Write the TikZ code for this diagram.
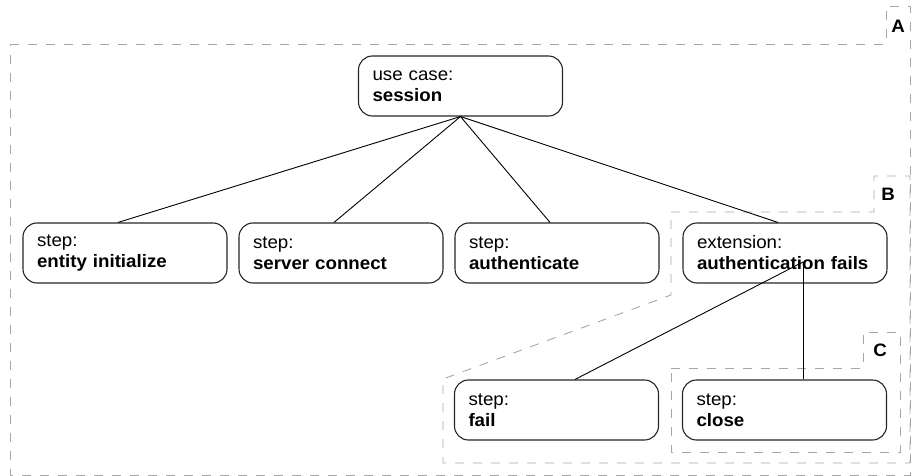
\documentclass[tikz,border=0pt]{standalone}
\usepackage{fontspec}
\setmainfont{Liberation Sans}[FakeStretch=1.04]
\begin{document}
\begin{tikzpicture}[x=1pt,y=-1pt,
  frame/.style={draw=black!35, line width=0.9pt, dash pattern=on 9pt off 9pt},
  item/.style={draw=black!85, line width=1.1pt, rounded corners=14pt,
    minimum width=204pt, minimum height=60pt, text width=176pt,
    inner xsep=14pt, inner ysep=0pt, align=left,
    font=\fontsize{18}{21}\selectfont},
  tag/.style={font=\fontsize{18}{21}\selectfont\bfseries, inner sep=0pt},
  link/.style={draw=black, line width=0.9pt}]
\useasboundingbox (0,0) rectangle (912,476);

% nested scope frames with their tabs
\draw[frame] (10,44) -- (886,44) -- (886,6) -- (910,6) -- (910,475) -- (10,475) -- cycle;
\draw[frame] (671,212) -- (874,212) -- (874,176) -- (910,176) -- (910,463)
  -- (443,463) -- (443,379) -- (671,295) -- cycle;
\draw[frame] (671,368) -- (863,368) -- (863,332) -- (900,332) -- (900,452) -- (671,452) -- cycle;
\node[tag] (la) at (898,26) {A};
\node[tag] (lb) at (888,194) {B};
\node[tag] (lc) at (880,350) {C};

% use case and its steps
\node[item] (session) at (460.5,86) {use case:\\\textbf{session}};
\node[item] (ent)  at (125,253) {step:\\\textbf{entity initialize}};
\node[item] (srv)  at (341,253) {step:\\\textbf{server connect}};
\node[item] (auth) at (557,253) {step:\\\textbf{authenticate}};
\node[item] (ext)  at (785,253) {extension:\\\textbf{authentication fails}};
\node[item] (fail) at (556.5,410) {step:\\\textbf{fail}};
\node[item] (close) at (784.5,410) {step:\\\textbf{close}};

% connectors
\foreach \n in {ent,srv,auth,ext}
  \draw[link] (session.south) -- ([xshift=-7pt]\n.north);
\coordinate (hub) at ([shift={(18pt,-9pt)}]ext.center);
\draw[link] (hub) -- ([xshift=18.5pt]fail.north);
\draw[link] (hub) -- ([xshift=18.5pt]close.north);
\end{tikzpicture}
\end{document}
